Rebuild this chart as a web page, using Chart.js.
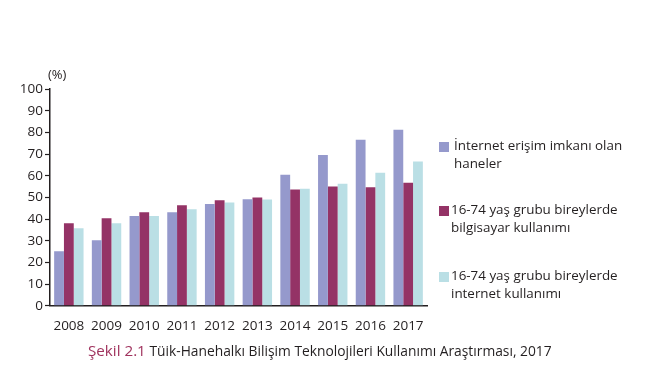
<!DOCTYPE html>
<html>
<head>
<meta charset="utf-8">
<script src="https://cdn.jsdelivr.net/npm/chart.js@4"></script>
<style>
  html, body { margin:0; padding:0; background:#fff; }
  #wrap { position:relative; width:646px; height:371px; overflow:hidden; font-family:"Open Sans", sans-serif; color:#231f20; }
  canvas { position:absolute; left:0; top:0; }
  .unit { position:absolute; left:48px; top:65px; font-size:13px; }
  .legend { position:absolute; left:439px; font-size:13.4px; line-height:17.5px; }
  .legend .box { position:absolute; left:0; width:10px; height:10px; }
  .legend .txt { position:absolute; white-space:nowrap; }
  .caption { position:absolute; left:88px; top:340px; font-size:13.8px; white-space:nowrap; }
  .caption .lbl { color:#a0335e; font-size:15.2px; }
</style>
</head>
<body>
<div id="wrap">
  <canvas id="c" width="646" height="371"></canvas>
  <div class="unit">(%)</div>
  <div id="legend"></div>
  <div class="caption"><span class="lbl">Şekil 2.1</span> Tüik-Hanehalkı Bilişim Teknolojileri Kullanımı Araştırması, 2017</div>
</div>
<script>
const years = ["2008","2009","2010","2011","2012","2013","2014","2015","2016","2017"];
const internetAccessHouseholds = [25.2, 30.2, 41.4, 43.1, 47.0, 49.2, 60.5, 69.5, 76.6, 81.2];
const computerUse = [38.1, 40.4, 43.2, 46.4, 48.7, 49.9, 53.7, 55.0, 54.7, 56.8];
const internetUse = [35.8, 38.1, 41.4, 44.5, 47.6, 49.0, 54.0, 56.3, 61.4, 66.6];
const yTicks = [0,10,20,30,40,50,60,70,80,90,100];
const seriesLabels = [
  ["İnternet erişim imkanı olan", "haneler"],
  ["16-74 yaş grubu bireylerde", "bilgisayar kullanımı"],
  ["16-74 yaş grubu bireylerde", "internet kullanımı"]
];
const colors = ["#9599cc", "#943366", "#badfe5"];

const chart = new Chart(document.getElementById('c'), {
  type: 'bar',
  data: {
    labels: years,
    datasets: [
      { label: seriesLabels[0].join(' '), data: internetAccessHouseholds, backgroundColor: colors[0] },
      { label: seriesLabels[1].join(' '), data: computerUse, backgroundColor: colors[1] },
      { label: seriesLabels[2].join(' '), data: internetUse, backgroundColor: colors[2] }
    ]
  },
  options: {
    responsive: false,
    animation: false,
    layout: { padding: { left: 0, right: 219, top: 89, bottom: 33 } },
    plugins: { legend: { display: false }, tooltip: { enabled: false } },
    datasets: { bar: { categoryPercentage: 0.78, barPercentage: 1.0 } },
    scales: {
      x: {
        grid: { display: false },
        border: { display: true, color: '#231f20', width: 1.5 },
        ticks: { color: '#231f20', font: { family: 'Open Sans', size: 13.5 }, padding: 4, maxRotation: 0 }
      },
      y: {
        min: 0, max: 100,
        afterFit: (s) => { s.width = 50; },
        afterBuildTicks: (s) => { s.ticks = yTicks.map(v => ({ value: v })); },
        grid: { drawOnChartArea: false, color: '#231f20', tickLength: 5, tickWidth: 1.2 },
        border: { display: true, color: '#231f20', width: 1.5 },
        ticks: { color: '#231f20', font: { family: 'Open Sans', size: 13.5 }, padding: 2 }
      }
    }
  }
});

// HTML legend built from the dataset labels
const legendTops = [137, 201, 267];
const lg = document.getElementById('legend');
seriesLabels.forEach((lines, i) => {
  const d = document.createElement('div');
  d.className = 'legend';
  d.style.top = legendTops[i] + 'px';
  const b = document.createElement('div');
  b.className = 'box';
  b.style.background = colors[i];
  b.style.top = '5px';
  d.appendChild(b);
  const t = document.createElement('div');
  t.className = 'txt';
  t.style.left = (i === 0 ? 15 : 12) + 'px';
  t.innerHTML = lines.join('<br>');
  d.appendChild(t);
  lg.appendChild(d);
});
</script>
</body>
</html>
